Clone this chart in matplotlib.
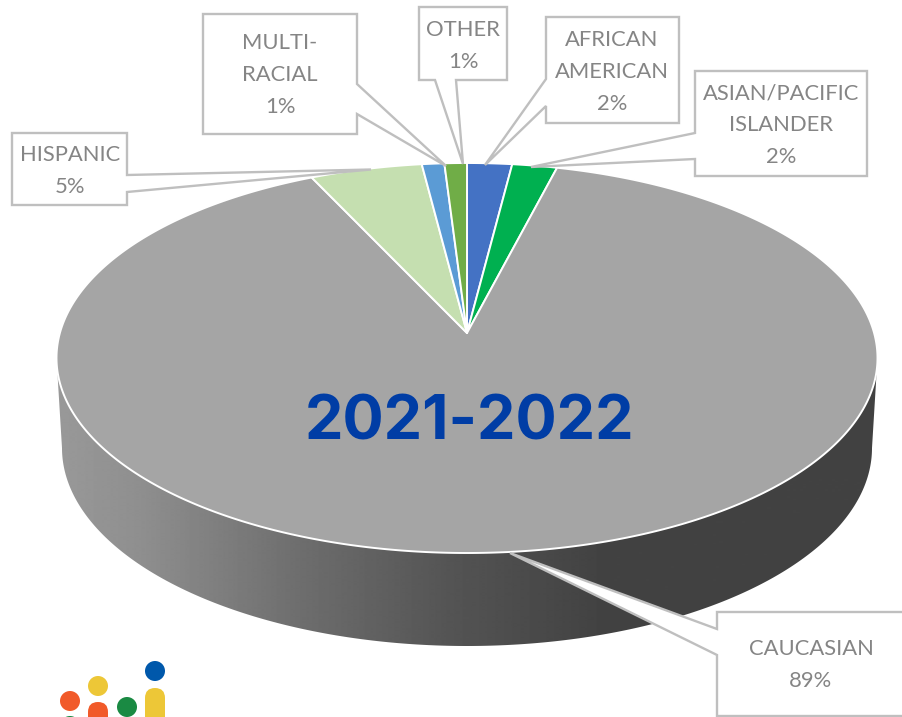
import numpy as np
import matplotlib
matplotlib.use("Agg")
import matplotlib.pyplot as plt
from matplotlib.patches import Polygon, Circle, FancyBboxPatch

categories = ["AFRICAN\nAMERICAN", "ASIAN/PACIFIC\nISLANDER", "CAUCASIAN", "HISPANIC", "MULTI-\nRACIAL", "OTHER"]
shares = [2, 2, 89, 5, 1, 1]
slice_colors = ["#4472C4", "#00B050", "#A5A5A5", "#C5DFB0", "#5B9BD5", "#70AD47"]
title_text = "2021-2022"

W, H = 902, 717
fig = plt.figure(figsize=(W / 100, H / 100), dpi=100)
ax = fig.add_axes([0, 0, 1, 1])
ax.set_xlim(0, W)
ax.set_ylim(H, 0)
ax.axis("off")

# Tilted disc: a circle seen in perspective, apex of the slices at (CX, CY)
CX, CY = 467.0, 333.0
REACH_UP, REACH_DOWN, HALF_WIDTH = 170.0, 220.0, 410.5
k = (REACH_DOWN - REACH_UP) / (REACH_DOWN + REACH_UP)
B = REACH_UP * (1 + k)
A = HALF_WIDTH * np.sqrt(1 - k * k)


def project(theta):
    u, v = np.sin(theta), np.cos(theta)
    w = 1 + k * v
    return CX + A * u / w, CY - B * v / w


def project_floor(theta):
    """Lower face of the disc: slightly smaller and shifted down."""
    x, y = project(theta)
    return CX + (x - CX) * 405 / HALF_WIDTH, 448 + (y - 358) * 198 / 195


# Rim of the disc, shaded from mid grey on the left to charcoal on the right
widest = np.arcsin(k)
lower = np.linspace(np.pi / 2 + widest, 3 * np.pi / 2 - widest, 500)
x_top, y_top = project(lower)
x_bot, y_bot = project_floor(lower)
rim_xy = np.r_[np.c_[x_top, y_top], np.c_[x_bot, y_bot][::-1]]
rim = Polygon(rim_xy, closed=True, fc="none", ec="none")
ax.add_patch(rim)
stops_x = [56, 140, 300, 450, 600, 877]
stops_v = [0.60, 0.56, 0.43, 0.33, 0.26, 0.26]
xs = np.linspace(56, 877, 822)
shade = np.interp(xs, stops_x, stops_v)[None, :]
img = ax.imshow(shade, cmap="gray", vmin=0, vmax=1, extent=(56, 877, 660, 300),
                aspect="auto", zorder=1, interpolation="bilinear")
img.set_clip_path(rim)
ax.set_xlim(0, W)
ax.set_ylim(H, 0)

# Slices, clockwise from twelve o'clock
edges = np.cumsum([0] + shares) / sum(shares) * 2 * np.pi
for a0, a1, color in zip(edges[:-1], edges[1:], slice_colors):
    arc = np.linspace(a0, a1, max(int((a1 - a0) * 120), 4))
    x, y = project(arc)
    pts = np.r_[[[CX, CY]], np.c_[x, y]]
    ax.add_patch(Polygon(pts, closed=True, fc=color, ec="white", lw=1.4, zorder=2, joinstyle="round"))


def callout(box, pointer, side):
    """White label box with a wedge leader running to a slice."""
    x0, y0, x1, y1 = box
    (p0, tip, p1) = pointer
    if side == "left":
        pts = [(x0, y0), (x1, y0), (x1, y1), (x0, y1), p1, tip, p0]
    elif side == "right":
        pts = [(x0, y0), (x1, y0), p0, tip, p1, (x1, y1), (x0, y1)]
    else:
        pts = [(x0, y0), (x1, y0), (x1, y1), p1, tip, p0, (x0, y1)]
    ax.add_patch(Polygon(pts, closed=True, fc="white", ec="#BFBFBF", lw=1.7, zorder=3, joinstyle="miter"))


label_boxes = {
    "AFRICAN\nAMERICAN": ((546, 17, 679, 123), ((546, 79), (485, 165), (546, 106)), "left", (612, 72)),
    "ASIAN/PACIFIC\nISLANDER": ((695, 71, 867, 176), ((695, 133), (531, 167), (695, 159)), "left", (781, 125)),
    "CAUCASIAN": ((717, 612, 925, 716), ((717, 629), (510, 553), (717, 655)), "left", (811, 665)),
    "HISPANIC": ((12, 133, 127, 205), ((127, 175), (371, 169.5), (127, 192)), "right", (70, 171)),
    "MULTI-\nRACIAL": ((203, 14, 357, 134), ((357, 84), (446, 166), (357, 114)), "right", (280, 75)),
    "OTHER": ((419, 7, 507, 80), ((435, 80), (463, 164), (456, 80)), "bottom", (463, 46)),
}

for name, share in zip(categories, shares):
    box, pointer, side, centre = label_boxes[name]
    callout(box, pointer, side)
    ax.text(centre[0], centre[1], f"{name}\n{share}%", ha="center", va="center",
            fontsize=15.8, color="#858585", family="Lato",
            linespacing=1.72, zorder=4)

ax.text(470, 440, title_text, ha="center", va="baseline", fontsize=44, fontweight="bold",
        family="Inter", color="#003DA5", zorder=5)

# Corner logo, cut off by the lower edge of the figure
for cx, cy, r, c in [(70, 701, 10, "#F15A29"), (98, 686, 10, "#EDC737"), (127, 707, 10, "#1A8A43"),
                     (155, 671, 10, "#0058AB"), (70, 726, 10, "#1A8A43")]:
    ax.add_patch(Circle((cx, cy), r, fc=c, ec="none", zorder=2))
ax.add_patch(FancyBboxPatch((98, 712), 0, 30, boxstyle="round,pad=10,rounding_size=10", fc="#F15A29", ec="none"))
ax.add_patch(FancyBboxPatch((155, 698), 0, 40, boxstyle="round,pad=10,rounding_size=10", fc="#EDC737", ec="none"))

fig.savefig("out.png", dpi=100, facecolor="white")
